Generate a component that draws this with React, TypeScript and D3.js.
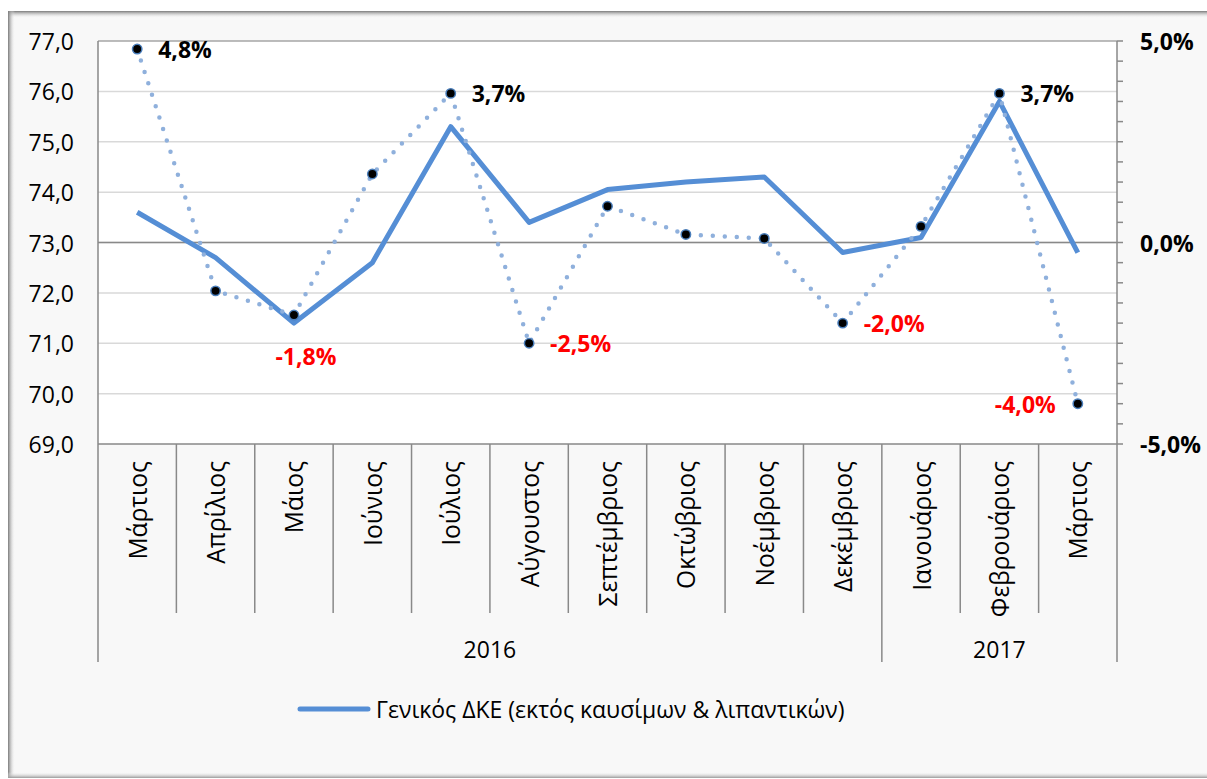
import { useMemo } from "react";
import * as d3 from "d3";

// chart values
const months = [
  "Μάρτιος", "Απρίλιος", "Μάιος", "Ιούνιος", "Ιούλιος", "Αύγουστος",
  "Σεπτέμβριος", "Οκτώβριος", "Νοέμβριος", "Δεκέμβριος",
  "Ιανουάριος", "Φεβρουάριος", "Μάρτιος",
];
const years = ["2016", "2017"];
const yearSpans = [[0, 9], [10, 12]];
const indexValues = [73.6, 72.7, 71.4, 72.6, 75.3, 73.4, 74.05, 74.2, 74.3, 72.8, 73.1, 75.8, 72.8];
const changeValues = [4.8, -1.2, -1.8, 1.7, 3.7, -2.5, 0.9, 0.2, 0.1, -2.0, 0.4, 3.7, -4.0];
const leftTicks = [69, 70, 71, 72, 73, 74, 75, 76, 77];
const rightTicks = [-5, 0, 5];
const legendLabel = "Γενικός ΔΚΕ (εκτός καυσίμων & λιπαντικών)";

// which points get a data label, and where it sits
const labelled: { i: number; side: "right" | "left" | "below" }[] = [
  { i: 0, side: "right" },
  { i: 2, side: "below" },
  { i: 4, side: "right" },
  { i: 5, side: "right" },
  { i: 9, side: "right" },
  { i: 11, side: "right" },
  { i: 12, side: "left" },
];

const W = 1207;
const H = 779;
const plot = { left: 98, right: 1117, top: 41, bottom: 444 };
const font = "'Open Sans', 'Liberation Sans', sans-serif";
const lineBlue = "#558ed5";
const dotBlue = "#8fb0dc";
const axisGray = "#898989";

const fmt = (v: number, digits = 1) => v.toFixed(digits).replace(".", ",");

export default function App() {
  const x = useMemo(
    () => d3.scaleBand<number>().domain(d3.range(months.length)).range([plot.left, plot.right]),
    []
  );
  const yL = useMemo(() => d3.scaleLinear().domain([69, 77]).range([plot.bottom, plot.top]), []);
  const yR = useMemo(() => d3.scaleLinear().domain([-5, 5]).range([plot.bottom, plot.top]), []);
  const cx = (i: number) => (x(i) as number) + x.bandwidth() / 2;

  const solidPath = d3.line<number>().x((_, i) => cx(i)).y((d) => yL(d))(indexValues) as string;
  const dotPath = d3.line<number>().x((_, i) => cx(i)).y((d) => yR(d))(changeValues) as string;

  const minorTicks = d3.range(-5, 5.01, 0.5);

  return (
    <svg width={W} height={H} style={{ position: "absolute", left: 0, top: 0 }} fontFamily={font}>
      <defs>
        <linearGradient id="shTop" x1="0" y1="0" x2="0" y2="1">
          <stop offset="0" stopColor="#7a7a7a" />
          <stop offset="1" stopColor="#f8f8f8" stopOpacity="0" />
        </linearGradient>
        <linearGradient id="shLeft" x1="0" y1="0" x2="1" y2="0">
          <stop offset="0" stopColor="#7a7a7a" />
          <stop offset="1" stopColor="#f8f8f8" stopOpacity="0" />
        </linearGradient>
        <linearGradient id="shBot" x1="0" y1="1" x2="0" y2="0">
          <stop offset="0" stopColor="#9a9a9a" />
          <stop offset="1" stopColor="#f8f8f8" stopOpacity="0" />
        </linearGradient>
      </defs>
      <rect width={W} height={H} fill="#ffffff" />
      {/* chart area with its soft edge */}
      <rect x={8} y={11} width={W} height={767} fill="#f8f8f8" />
      <rect x={8} y={11} width={W} height={7} fill="url(#shTop)" />
      <rect x={8} y={11} width={7} height={767} fill="url(#shLeft)" />
      <rect x={8} y={772} width={W} height={6} fill="url(#shBot)" />

      {/* plot area */}
      <rect x={plot.left} y={plot.top} width={plot.right - plot.left} height={plot.bottom - plot.top} fill="#ffffff" />
      {leftTicks.slice(1, -1).map((t) => (
        <line key={t} x1={plot.left} x2={plot.right} y1={yL(t)} y2={yL(t)} stroke="#d9d9d9" strokeWidth={1.5} />
      ))}
      <line x1={plot.left} x2={plot.right} y1={plot.top} y2={plot.top} stroke="#a6a6a6" strokeWidth={1.5} />
      <line x1={plot.left} x2={plot.right} y1={yR(0)} y2={yR(0)} stroke={axisGray} strokeWidth={1.5} />
      <line x1={plot.left} x2={plot.right} y1={plot.bottom} y2={plot.bottom} stroke={axisGray} strokeWidth={1.5} />
      <line x1={plot.left} x2={plot.left} y1={plot.top} y2={plot.bottom} stroke={axisGray} strokeWidth={1.5} />

      {/* left axis labels */}
      {leftTicks.map((t) => (
        <text key={t} x={74} y={yL(t)} textAnchor="end" dominantBaseline="central" fontSize={23} fill="#000">
          {fmt(t)}
        </text>
      ))}

      {/* right axis */}
      <line x1={plot.right} x2={plot.right} y1={plot.top} y2={plot.bottom} stroke={axisGray} strokeWidth={1.5} />
      {minorTicks.map((t) => (
        <line key={t} x1={plot.right} x2={plot.right + 6} y1={yR(t)} y2={yR(t)} stroke={axisGray} strokeWidth={1.5} />
      ))}
      {rightTicks.map((t) => (
        <text key={t} x={1140} y={yR(t)} dominantBaseline="central" fontSize={23} fontWeight="bold" fill="#000">
          {fmt(t)}%
        </text>
      ))}

      {/* category axis, two levels */}
      {d3.range(months.length + 1).map((i) => {
        const xx = i < months.length ? (x(i) as number) : plot.right;
        const isGroup = yearSpans.some(([a, b]) => i === a || i === b + 1);
        return (
          <line key={i} x1={xx} x2={xx} y1={plot.bottom} y2={isGroup ? 662 : 613} stroke={axisGray} strokeWidth={1.5} />
        );
      })}
      {months.map((m, i) => (
        <text
          key={i}
          transform={`translate(${cx(i)},461) rotate(-90)`}
          textAnchor="end"
          dominantBaseline="central"
          fontSize={24.6}
          fill="#000"
        >
          {m}
        </text>
      ))}
      {years.map((yr, k) => {
        const [a, b] = yearSpans[k];
        const mid = ((x(a) as number) + (x(b) as number) + x.bandwidth()) / 2;
        return (
          <text key={yr} x={mid} y={649} textAnchor="middle" dominantBaseline="central" fontSize={23} fill="#000">
            {yr}
          </text>
        );
      })}

      {/* series */}
      <path d={solidPath} fill="none" stroke={lineBlue} strokeWidth={5} strokeLinejoin="round" />
      <path d={dotPath} fill="none" stroke={dotBlue} strokeWidth={4.5} strokeDasharray="0 12" strokeLinecap="round" />
      {changeValues.map((v, i) => (
        <circle key={i} cx={cx(i)} cy={yR(v)} r={4.7} fill="#000" stroke="#4a7ebb" strokeWidth={1.5} />
      ))}
      {labelled.map(({ i, side }) => {
        const v = changeValues[i];
        const px = cx(i);
        const py = yR(v);
        const color = v < 0 ? "#ff0000" : "#000000";
        const pos =
          side === "right"
            ? { x: px + 21, y: py, anchor: "start" }
            : side === "left"
            ? { x: px - 22, y: py, anchor: "end" }
            : { x: px + 12, y: py + 41, anchor: "middle" };
        return (
          <text
            key={i}
            x={pos.x}
            y={pos.y}
            textAnchor={pos.anchor as any}
            dominantBaseline="central"
            fontSize={23}
            fontWeight="bold"
            fill={color}
          >
            {fmt(v)}%
          </text>
        );
      })}

      {/* legend */}
      <line x1={300} x2={368} y1={709} y2={709} stroke={lineBlue} strokeWidth={5} strokeLinecap="round" />
      <text x={376} y={709} dominantBaseline="central" fontSize={23} fill="#000">
        {legendLabel}
      </text>
    </svg>
  );
}
